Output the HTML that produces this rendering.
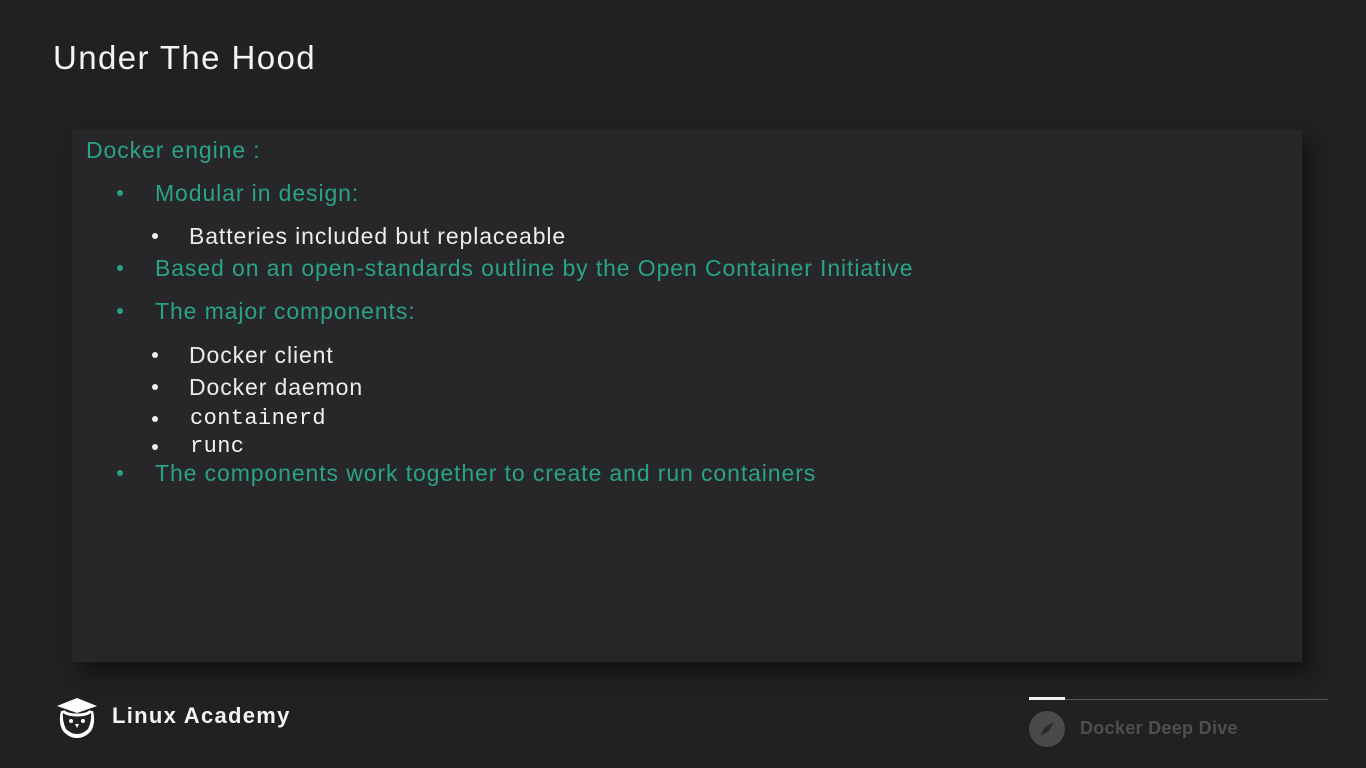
<!DOCTYPE html>
<html><head><meta charset="utf-8"><style>
html,body{margin:0;padding:0;}
body{width:1366px;height:768px;background:#212123;position:relative;overflow:hidden;font-family:"Liberation Sans",sans-serif;}
.t{position:absolute;white-space:nowrap;line-height:1;}
.g{color:#2aa384;font-size:23px;letter-spacing:0.9px;}
.w{color:#ececec;font-size:23px;letter-spacing:0.9px;}
.m{font-family:"Liberation Mono",monospace;color:#f2f2f2;font-size:22px;letter-spacing:0.4px;}
.panel{position:absolute;left:72px;top:130px;width:1230px;height:532px;background:#272729;box-shadow:8px 12px 20px rgba(0,0,0,0.45);}
.dot{position:absolute;border-radius:50%;}
</style></head><body>
<div class="t" style="left:53px;top:41px;font-size:33px;color:#f4f4f4;letter-spacing:1.4px;">Under The Hood</div>
<div class="panel"></div>
<div class="t g" style="left:86px;top:139px;">Docker engine :</div>
<div class="dot" style="left:117px;top:190px;width:6px;height:6px;background:#2aa384"></div>
<div class="t g" style="left:155px;top:182px;">Modular in design:</div>
<div class="dot" style="left:152px;top:233px;width:6px;height:6px;background:#eee"></div>
<div class="t w" style="left:189px;top:225px;">Batteries included but replaceable</div>
<div class="dot" style="left:117px;top:265px;width:6px;height:6px;background:#2aa384"></div>
<div class="t g" style="left:155px;top:257px;">Based on an open-standards outline by the Open Container Initiative</div>
<div class="dot" style="left:117px;top:308px;width:6px;height:6px;background:#2aa384"></div>
<div class="t g" style="left:155px;top:300px;">The major components:</div>
<div class="dot" style="left:152px;top:352px;width:6px;height:6px;background:#eee"></div>
<div class="t w" style="left:189px;top:344px;">Docker client</div>
<div class="dot" style="left:152px;top:384px;width:6px;height:6px;background:#eee"></div>
<div class="t w" style="left:189px;top:376px;">Docker daemon</div>
<div class="dot" style="left:152px;top:416px;width:6px;height:6px;background:#eee"></div>
<div class="t m" style="left:190px;top:408px;">containerd</div>
<div class="dot" style="left:152px;top:444px;width:6px;height:6px;background:#eee"></div>
<div class="t m" style="left:190px;top:436px;">runc</div>
<div class="dot" style="left:117px;top:470px;width:6px;height:6px;background:#2aa384"></div>
<div class="t g" style="left:155px;top:462px;">The components work together to create and run containers</div>

<svg style="position:absolute;left:55px;top:697px" width="44" height="42" viewBox="0 0 44 42">
<path d="M22 1 L42 9 L22 16 L2 9 Z" fill="#fff"/>
<path d="M6 14 Q3 26 8 34 Q14 41 22 41 Q30 41 36 34 Q41 26 38 14 L36 14 Q37 24 33 32 Q28 37 22 37 Q16 37 11 32 Q7 24 8 14 Z" fill="#fff"/>
<path d="M8 14 Q12 18 22 18 Q32 18 36 14" stroke="#fff" stroke-width="3" fill="none"/>
<circle cx="16" cy="24" r="2" fill="#fff"/><circle cx="28" cy="24" r="2" fill="#fff"/>
<path d="M20 27 L24 27 L22 31 Z" fill="#fff"/>
</svg>
<div class="t" style="left:112px;top:705px;font-size:22px;font-weight:bold;color:#f4f4f4;letter-spacing:1.3px;">Linux Academy</div>

<div style="position:absolute;left:1029px;top:699px;width:299px;height:1px;background:#555"></div>
<div style="position:absolute;left:1029px;top:697px;width:36px;height:3px;background:#f2f2f2"></div>
<svg style="position:absolute;left:1029px;top:711px" width="36" height="36"><circle cx="18" cy="18" r="18" fill="#4a4a4c"/><path d="M25 11 L20 20 L11 25 L16 16 Z" fill="#2b2b2d"/></svg>
<div class="t" style="left:1080px;top:719px;font-size:18px;font-weight:bold;color:#4f4f51;letter-spacing:0.3px;">Docker Deep Dive</div>
</body></html>
